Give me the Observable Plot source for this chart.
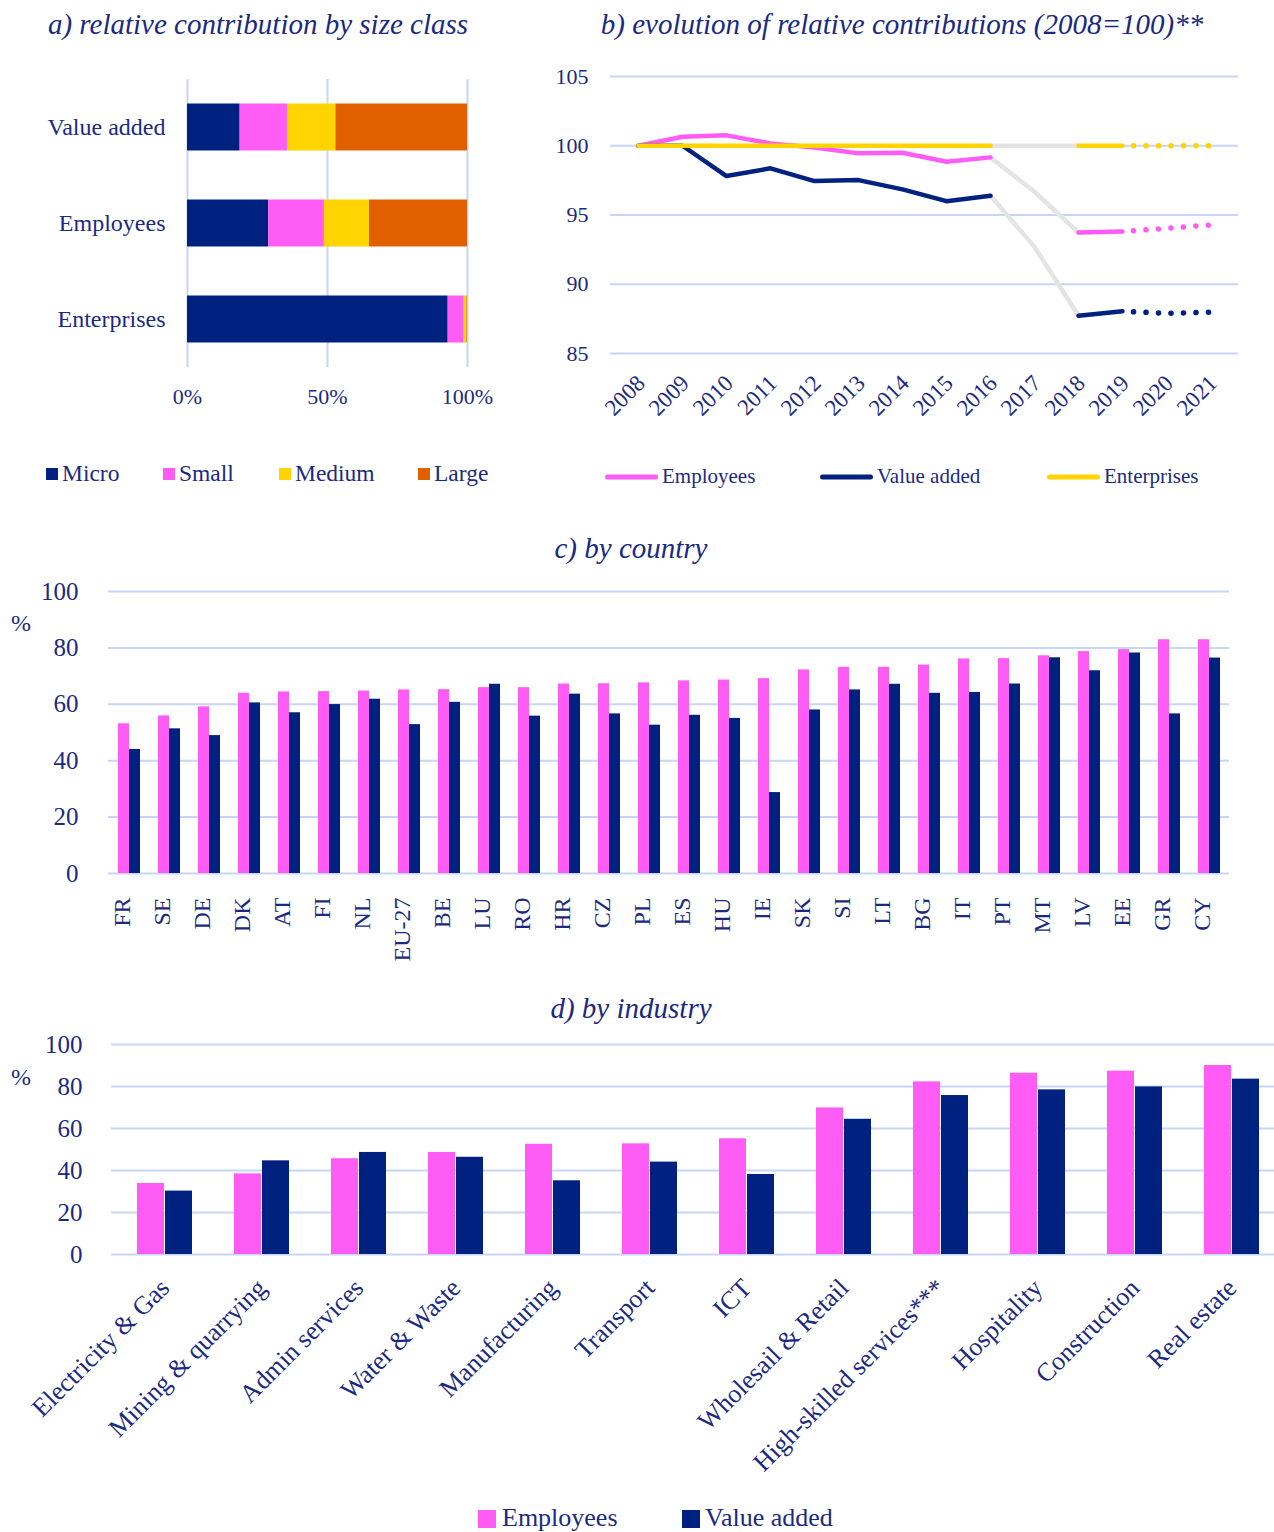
<!DOCTYPE html>
<html>
<head>
<meta charset="utf-8">
<script src="https://cdn.jsdelivr.net/npm/d3@7"></script>
<script src="https://cdn.jsdelivr.net/npm/@observablehq/plot@0.6"></script>
<style>
  body { margin: 0; background: #ffffff; }
  #page { position: relative; width: 1274px; height: 1532px; overflow: hidden;
          font-family: "Liberation Serif", "Times New Roman", serif; color: #1b2a80; }
  .panel { position: absolute; }
  .title { position: absolute; font-style: italic; font-size: 29px; white-space: nowrap;
           transform: translate(-50%, -50%); }
  .lab { position: absolute; white-space: nowrap; transform: translateY(-50%); }
  .sw { position: absolute; transform: translateY(-50%); }
</style>
</head>
<body>
<div id="page"></div>
<script>
// ---------- DATA ----------
// a) relative contribution by size class (%)
const sizeClasses = ["Micro", "Small", "Medium", "Large"];
const indicatorsA = ["Value added", "Employees", "Enterprises"];
const shareValueAdded = [18.8, 16.9, 17.3, 47.0];
const shareEmployees = [29.0, 19.9, 16.1, 35.0];
const shareEnterprises = [93.1, 5.7, 1.0, 0.2];

// b) evolution of relative contributions (2008=100)
const years = [2008, 2009, 2010, 2011, 2012, 2013, 2014, 2015, 2016, 2017, 2018, 2019, 2020, 2021];
const employeesIndex = [100, 100.65, 100.75, 100.17, 99.88, 99.45, 99.5, 98.85, 99.16, 96.68, 93.73, 93.8, 94.04, 94.28];
const valueAddedIndex = [100, 100, 97.81, 98.37, 97.45, 97.52, 96.85, 96.0, 96.39, 92.7, 87.72, 88.05, 87.9, 87.98];
const enterprisesIndex = [100, 100, 100, 100, 100, 100, 100, 100, 100, 100, 100, 100, 100, 100];
const yTicksB = [85, 90, 95, 100, 105];

// c) by country (%)
const countries = ["FR", "SE", "DE", "DK", "AT", "FI", "NL", "EU-27", "BE", "LU", "RO", "HR", "CZ", "PL",
  "ES", "HU", "IE", "SK", "SI", "LT", "BG", "IT", "PT", "MT", "LV", "EE", "GR", "CY"];
const countryEmployees = [53.1, 55.9, 59.1, 63.9, 64.4, 64.5, 64.7, 65.1, 65.2, 65.9, 65.9, 67.2, 67.3, 67.6,
  68.3, 68.6, 69.1, 72.2, 73.1, 73.1, 73.9, 76.1, 76.2, 77.2, 78.7, 79.4, 82.9, 82.9];
const countryValueAdded = [44.0, 51.3, 48.9, 60.5, 57.0, 59.9, 61.8, 52.8, 60.7, 67.1, 55.8, 63.6, 56.6, 52.6,
  56.1, 55.0, 28.7, 58.0, 65.1, 67.1, 63.9, 64.2, 67.2, 76.5, 71.9, 78.2, 56.6, 76.4];

// d) by industry (%)
const industries = ["Electricity & Gas", "Mining & quarrying", "Admin services", "Water & Waste", "Manufacturing",
  "Transport", "ICT", "Wholesail & Retail", "High-skilled services***", "Hospitality", "Construction", "Real estate"];
const industryEmployees = [33.8, 38.4, 45.6, 48.6, 52.5, 52.7, 55.1, 69.8, 82.2, 86.3, 87.3, 90.0];
const industryValueAdded = [30.2, 44.6, 48.6, 46.3, 35.1, 44.0, 38.1, 64.4, 75.7, 78.4, 79.8, 83.5];
const yTicksPct = [0, 20, 40, 60, 80, 100];

// ---------- STYLE ----------
const TEXT = "#1b2a80";
const NAVY = "#00217f";
const PINK = "#ff5cf6";
const YELLOW = "#ffd400";
const ORANGE = "#e06000";
const GRAY = "#e4e4e4";
const GRID = "#c8d5f7";
const FONT = '"Liberation Serif", "Times New Roman", serif';
const sizeColors = [NAVY, PINK, YELLOW, ORANGE];

const page = document.getElementById("page");
function place(el, left, top) {
  el.style.position = "absolute"; el.style.left = left + "px"; el.style.top = top + "px";
  page.appendChild(el);
}
function addTitle(text, cx, cy) {
  const d = document.createElement("div"); d.className = "title"; d.textContent = text;
  d.style.left = cx + "px"; d.style.top = cy + "px"; page.appendChild(d);
}
function addLabel(text, x, cy, size) {
  const d = document.createElement("div"); d.className = "lab"; d.textContent = text;
  d.style.left = x + "px"; d.style.top = cy + "px"; d.style.fontSize = size + "px"; page.appendChild(d);
}
function addSwatch(x, cy, w, h, color, radius) {
  const d = document.createElement("div"); d.className = "sw";
  d.style.left = x + "px"; d.style.top = cy + "px"; d.style.width = w + "px"; d.style.height = h + "px";
  d.style.background = color; d.style.borderRadius = (radius || 0) + "px"; page.appendChild(d);
}
const style = (fs) => ({fontFamily: FONT, fontSize: fs + "px", color: TEXT, background: "transparent", overflow: "visible"});

// ---------- PANEL A ----------
addTitle("a) relative contribution by size class", 258, 24);
const rowsA = [];
[shareValueAdded, shareEmployees, shareEnterprises].forEach((vals, i) => {
  sizeClasses.forEach((c, j) => rowsA.push({indicator: indicatorsA[i], size: c, share: vals[j]}));
});
const plotA = Plot.plot({
  width: 520, height: 370, marginLeft: 187, marginRight: 53, marginTop: 19, marginBottom: 63,
  style: style(22),
  x: {domain: [0, 100], label: null, axis: null},
  y: {domain: indicatorsA, padding: 0, label: null, axis: null},
  color: {domain: sizeClasses, range: sizeColors},
  marks: [
    Plot.gridX([0, 50, 100], {stroke: GRID, strokeOpacity: 1, strokeWidth: 2}),
    Plot.barX(rowsA, {x: "share", y: "indicator", fill: "size", insetTop: 24.5, insetBottom: 24.5}),
    Plot.axisY({tickSize: 0, tickPadding: 22, fontSize: 24, label: null}),
    Plot.axisX([0, 50, 100], {tickSize: 0, tickPadding: 21, fontSize: 22, tickFormat: d => d + "%", label: null})
  ]
});
place(plotA, 0, 60);
// legend a
const legA = [[46, 62], [163, 179], [279, 295], [418, 434]];
sizeClasses.forEach((c, i) => {
  addSwatch(legA[i][0], 474, 12, 12, sizeColors[i]);
  addLabel(c, legA[i][1], 473, 23.5);
});

// ---------- PANEL B ----------
addTitle("b) evolution of relative contributions (2008=100)**", 902, 24);
const seriesB = [
  {name: "Employees", values: employeesIndex, color: PINK},
  {name: "Value added", values: valueAddedIndex, color: NAVY},
  {name: "Enterprises", values: enterprisesIndex, color: YELLOW}
];
const seg = (vals, i0, i1) => years.slice(i0, i1 + 1).map((y, k) => ({year: y, value: vals[i0 + k]}));
const marksB = [Plot.gridY(yTicksB, {stroke: GRID, strokeOpacity: 1, strokeWidth: 2})];
seriesB.forEach(s => marksB.push(Plot.line(seg(s.values, 8, 10), {x: "year", y: "value", stroke: GRAY, strokeWidth: 4.5, strokeLinecap: "round"})));
seriesB.forEach(s => {
  marksB.push(Plot.line(seg(s.values, 0, 8), {x: "year", y: "value", stroke: s.color, strokeWidth: 4.5, strokeLinecap: "round"}));
  marksB.push(Plot.line(seg(s.values, 10, 11), {x: "year", y: "value", stroke: s.color, strokeWidth: 4.5, strokeLinecap: "round"}));
  marksB.push(Plot.line(seg(s.values, 11, 13), {x: "year", y: "value", stroke: s.color, strokeWidth: 5.5, strokeLinecap: "round", strokeDasharray: "0.1 12.4", strokeDashoffset: -11}));
});
marksB.push(Plot.axisY(yTicksB, {tickSize: 0, tickPadding: 22, fontSize: 22, label: null}));
marksB.push(Plot.text(years, {x: d => d, text: d => String(d), frameAnchor: "bottom", dy: 31, dx: 8,
  rotate: -45, textAnchor: "end", fontSize: 23}));
const plotB = Plot.plot({
  width: 714, height: 380, marginLeft: 50, marginRight: 36, marginTop: 16, marginBottom: 87,
  style: style(20),
  x: {type: "point", domain: years, padding: 0.5, axis: null},
  y: {domain: [85, 105], axis: null},
  marks: marksB
});
place(plotB, 560, 60);
// legend b
const legB = [[605, 662], [820, 877], [1047, 1104]];
seriesB.forEach((s, i) => {
  addSwatch(legB[i][0], 477, 53, 5, s.color, 3);
  addLabel(s.name, legB[i][1], 476, 21);
});

// ---------- PANEL C ----------
addTitle("c) by country", 631, 548);
const rowsCE = countries.map((c, i) => ({country: c, value: countryEmployees[i]}));
const rowsCV = countries.map((c, i) => ({country: c, value: countryValueAdded[i]}));
const plotC = Plot.plot({
  width: 1274, height: 400, marginLeft: 108, marginRight: 45, marginTop: 21, marginBottom: 97,
  style: style(23),
  x: {domain: countries, paddingInner: 0.45, paddingOuter: 0.225, axis: null},
  y: {domain: [0, 100], axis: null},
  marks: [
    Plot.gridY(yTicksPct, {stroke: GRID, strokeOpacity: 1, strokeWidth: 2}),
    Plot.barY(rowsCE, {x: "country", y: "value", fill: PINK, insetRight: 11}),
    Plot.barY(rowsCV, {x: "country", y: "value", fill: NAVY, insetLeft: 11}),
    Plot.axisY(yTicksPct, {tickSize: 0, tickPadding: 30, fontSize: 25, label: null}),
    Plot.text(countries, {x: d => d, text: d => d, frameAnchor: "bottom", dy: 24, rotate: -90,
      textAnchor: "end", fontSize: 24})
  ]
});
place(plotC, 0, 570);
addLabel("%", 11, 623, 24);

// ---------- PANEL D ----------
addTitle("d) by industry", 631, 1008);
const rowsDE = industries.map((c, i) => ({industry: c, value: industryEmployees[i]}));
const rowsDV = industries.map((c, i) => ({industry: c, value: industryValueAdded[i]}));
const plotD = Plot.plot({
  width: 1274, height: 465, marginLeft: 111, marginRight: 0, marginTop: 14, marginBottom: 241,
  style: style(23),
  x: {domain: industries, range: [111, 1286], paddingInner: 0.428, paddingOuter: 0.214, axis: null},
  y: {domain: [0, 100], axis: null},
  marks: [
    Plot.gridY(yTicksPct, {stroke: GRID, strokeOpacity: 1, strokeWidth: 2}),
    Plot.barY(rowsDE, {x: "industry", y: "value", fill: PINK, insetRight: 28}),
    Plot.barY(rowsDV, {x: "industry", y: "value", fill: NAVY, insetLeft: 28}),
    Plot.axisY(yTicksPct, {tickSize: 0, tickPadding: 29, fontSize: 25, label: null}),
    Plot.text(industries, {x: d => d, text: d => d, frameAnchor: "bottom", dy: 35, dx: 6, rotate: -45,
      textAnchor: "end", fontSize: 26})
  ]
});
plotD.style.overflow = "hidden";
place(plotD, 0, 1030);
addLabel("%", 11, 1077, 24);
// legend d
addSwatch(478, 1519, 18, 18, PINK);
addLabel("Employees", 502, 1518, 26);
addSwatch(682, 1519, 18, 18, NAVY);
addLabel("Value added", 705, 1518, 26);
</script>
</body>
</html>
